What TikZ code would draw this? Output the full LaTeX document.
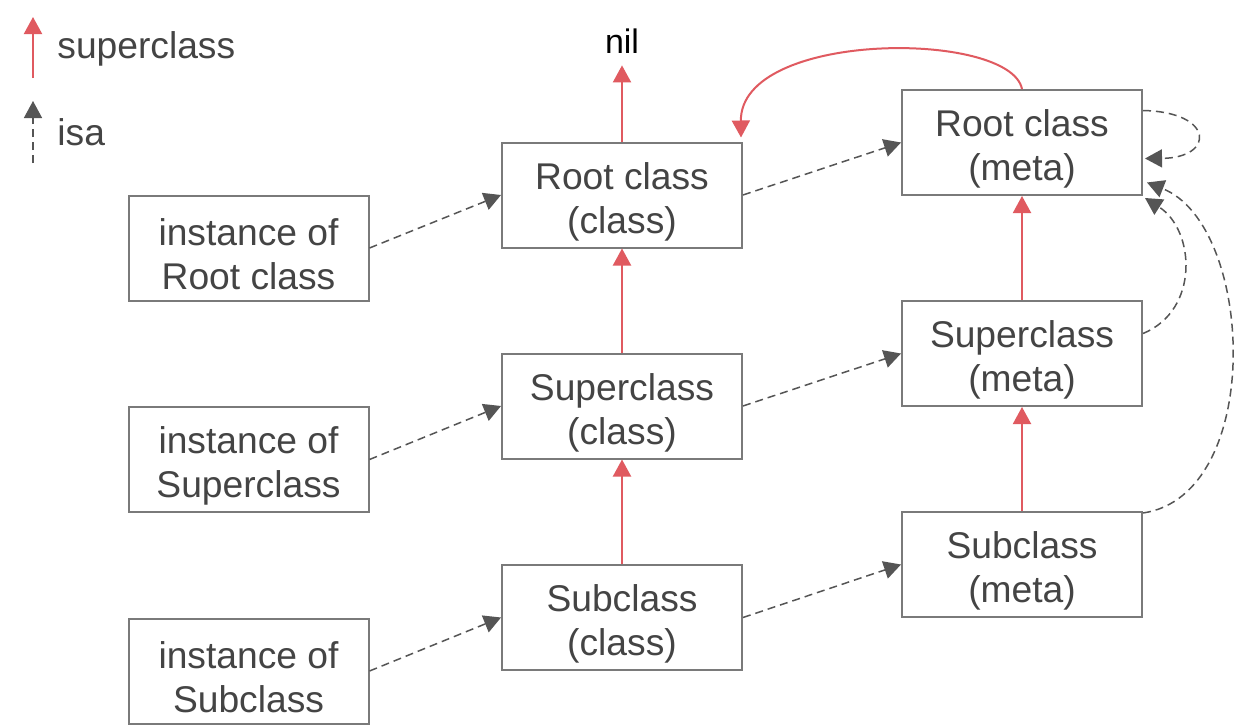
\documentclass[tikz,border=0pt]{standalone}
\usepackage{fontspec}
\setmainfont{Liberation Sans}
\usetikzlibrary{arrows.meta}
\definecolor{superred}{HTML}{E05A60}
\definecolor{isagray}{HTML}{555555}
\definecolor{boxgray}{HTML}{7A7A7A}
\definecolor{textgray}{HTML}{444444}
\newcommand{\topgap}{\rule{0pt}{20pt}}

\begin{document}
\begin{tikzpicture}[x=0.5pt, y=-0.5pt,
  super/.style={superred, line width=1pt, -{Triangle[length=8.5pt,width=9pt]}},
  isa/.style={isagray, line width=0.75pt, dash pattern=on 4pt off 2.5pt, -{Triangle[length=8.5pt,width=9pt]}},
  legend/.style={anchor=west, inner sep=0pt, text=textgray, font=\fontsize{18.6}{22}\selectfont}]
\useasboundingbox[fill=white] (0,0) rectangle (1258,728);

% legend
\coordinate (sup1) at (33,78);
\coordinate (sup2) at (33,17);
\coordinate (isa1) at (33,163);
\coordinate (isa2) at (33,101);
\draw[super] (sup1) -- (sup2);
\draw[isa] (isa1) -- (isa2);
\node[legend] (supertext) at (57,49) {superclass};
\node[legend] (isatext) at (57,132) {isa};

  \begin{scope}[every node/.style={draw=boxgray, line width=1pt, minimum width=120pt, minimum height=52.5pt, inner sep=0pt, align=center, text=textgray, font=\fontsize{18.6}{22}\selectfont}]
\node(instroot) at (248.5,248) {\topgap instance of\\Root class};
\node(instsuper) at (248.5,459.5) {\topgap instance of\\Superclass};
\node(instsub) at (248.5,671) {\topgap instance of\\Subclass};
\node(rootcls) at (622,195) {\topgap Root class\\(class)};
\node(supercls) at (622,406) {\topgap Superclass\\(class)};
\node(subcls) at (622,617.5) {\topgap Subclass\\(class)};
\node(rootmeta) at (1022,142.5) {\topgap Root class\\(meta)};
\node(supermeta) at (1022,353.5) {\topgap Superclass\\(meta)};
\node(submeta) at (1022,564.5) {\topgap Subclass\\(meta)};
\end{scope}

\node[anchor=base, inner sep=0pt, font=\fontsize{17}{20}\selectfont](nil) at (622,53) {nil};

% superclass chain
\draw[super] (rootcls) -- ([yshift=-6pt]nil.south);
\draw[super] (supercls) -- (rootcls);
\draw[super] (subcls) -- (supercls);
\draw[super] (submeta) -- (supermeta);
\draw[super] (supermeta) -- (rootmeta);
\draw[super] (rootmeta.north) .. controls (1010,30) and (740,30) .. ([xshift=-1pt,yshift=2pt]rootcls.north east);

% isa pointers
\draw[isa] (instroot.east) -- (rootcls.west);
\draw[isa] (instsuper.east) -- (supercls.west);
\draw[isa] (instsub.east) -- (subcls.west);
\draw[isa] (rootcls.east) -- (rootmeta.west);
\draw[isa] (supercls.east) -- (supermeta.west);
\draw[isa] (subcls.east) -- (submeta.west);
\draw[isa] ([yshift=16pt]rootmeta.east) .. controls (1215,112) and (1215,158) .. ([xshift=1pt,yshift=-8pt]rootmeta.east);
\draw[isa] ([yshift=10pt]supermeta.east) .. controls (1200,310) and (1195,230) .. ([xshift=1pt,yshift=-1pt]rootmeta.south east);
\draw[isa] ([yshift=-1pt]submeta.north east) .. controls (1265,495) and (1255,225) .. ([xshift=2pt,yshift=-20pt]rootmeta.east);
\end{tikzpicture}
\end{document}
